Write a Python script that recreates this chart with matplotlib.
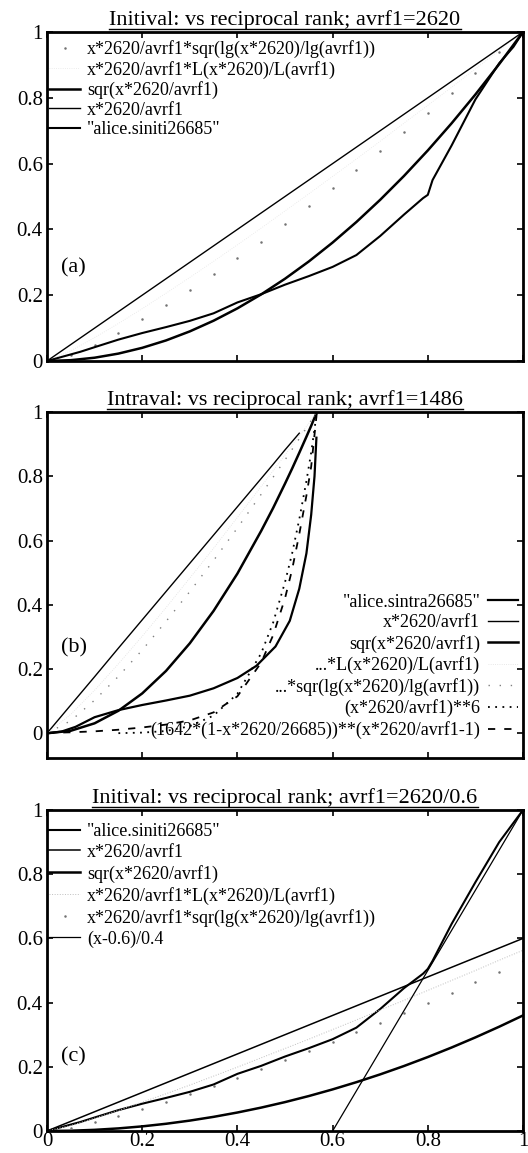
import matplotlib
matplotlib.use("Agg")
import matplotlib.pyplot as plt
from matplotlib.lines import Line2D

plt.rcParams['font.family'] = ['Liberation Serif', 'DejaVu Serif']

# ---------------- panel (a): Initival, avrf1=2620 ----------------
xa = [0, 0.05, 0.1, 0.15, 0.2, 0.25, 0.3, 0.35, 0.4, 0.45, 0.5,
      0.55, 0.6, 0.65, 0.7, 0.75, 0.8, 0.85, 0.9, 0.95, 1.0]
a_lin = [0, 0.05, 0.1, 0.15, 0.2, 0.25, 0.3, 0.35, 0.4, 0.45, 0.5,
         0.55, 0.6, 0.65, 0.7, 0.75, 0.8, 0.85, 0.9, 0.95, 1.0]
a_sqr = [0, 0.0025, 0.01, 0.0225, 0.04, 0.0625, 0.09, 0.1225, 0.16, 0.2025, 0.25,
         0.3025, 0.36, 0.4225, 0.49, 0.5625, 0.64, 0.7225, 0.81, 0.9025, 1.0]
a_L = [0, 0.031, 0.071, 0.114, 0.159, 0.206, 0.254, 0.303, 0.353, 0.404, 0.456,
       0.508, 0.561, 0.614, 0.668, 0.723, 0.777, 0.832, 0.888, 0.944, 1.0]
a_lg = [0, 0.019, 0.050, 0.086, 0.127, 0.170, 0.215, 0.263, 0.312, 0.363, 0.416,
        0.470, 0.525, 0.581, 0.638, 0.696, 0.755, 0.815, 0.876, 0.938, 1.0]

# empirical "alice.siniti26685"
emp_x = [0, 0.03, 0.07, 0.1, 0.15, 0.2, 0.25, 0.3, 0.35, 0.4, 0.45, 0.5, 0.55,
         0.6, 0.65, 0.7, 0.75, 0.79, 0.8, 0.81, 0.85, 0.9, 0.95, 0.98, 1.0]
emp_y_a = [0, 0.012, 0.028, 0.042, 0.065, 0.085, 0.103, 0.122, 0.145, 0.178, 0.203,
           0.232, 0.258, 0.286, 0.322, 0.38, 0.445, 0.495, 0.505, 0.55, 0.655, 0.795,
           0.905, 0.955, 1.0]
emp_y_c = [0, 0.012, 0.028, 0.042, 0.065, 0.085, 0.103, 0.122, 0.145, 0.178, 0.203,
           0.232, 0.258, 0.286, 0.322, 0.38, 0.445, 0.49, 0.505, 0.53, 0.645, 0.775,
           0.90, 0.96, 1.0]

# ---------------- panel (b): Intraval, avrf1=1486 ----------------
xb = [0, 0.05, 0.1, 0.15, 0.2, 0.25, 0.3, 0.35, 0.4, 0.45, 0.475, 0.5,
      0.515, 0.53, 0.545, 0.555, 0.567]
b_lin = [0, 0.088, 0.176, 0.265, 0.353, 0.441, 0.529, 0.617, 0.705, 0.793, 0.837,
         0.882, 0.908, 0.934, 0.961, 0.978, 1.0]
b_sqr = [0, 0.0078, 0.031, 0.070, 0.124, 0.194, 0.280, 0.381, 0.497, 0.630, 0.701,
         0.777, 0.824, 0.873, 0.923, 0.957, 1.0]
b_L = [0, 0.059, 0.134, 0.216, 0.302, 0.391, 0.483, 0.576, 0.672, 0.768, 0.817,
       0.866, 0.896, 0.926, 0.955, 0.975, 1.0]
b_lg = [0, 0.039, 0.103, 0.177, 0.259, 0.348, 0.441, 0.538, 0.639, 0.744, 0.797,
        0.851, 0.884, 0.917, 0.950, 0.973, 1.0]
b_pow6 = [0, 0.0, 0.0, 0.0003, 0.002, 0.007, 0.022, 0.055, 0.123, 0.249, 0.344,
          0.470, 0.560, 0.666, 0.785, 0.874, 1.0]
b_exp = [0.001, 0.003, 0.006, 0.011, 0.018, 0.027, 0.040, 0.065, 0.115, 0.220, 0.305,
         0.420, 0.510, 0.620, 0.740, 0.830, 1.0]
bemp_x = [0, 0.03, 0.06, 0.1, 0.15, 0.2, 0.25, 0.3, 0.35, 0.4, 0.44, 0.48, 0.51,
          0.53, 0.545, 0.555, 0.562, 0.566]
bemp_y = [0, 0.005, 0.02, 0.05, 0.072, 0.088, 0.102, 0.117, 0.14, 0.172, 0.21, 0.27,
          0.35, 0.45, 0.56, 0.68, 0.80, 0.92]

# ---------------- panel (c): Initival, avrf1=2620/0.6 ----------------
xc = xa
c_lin = [0, 0.03, 0.06, 0.09, 0.12, 0.15, 0.18, 0.21, 0.24, 0.27, 0.30,
         0.33, 0.36, 0.39, 0.42, 0.45, 0.48, 0.51, 0.54, 0.57, 0.60]
c_sqr = [0, 0.0009, 0.0036, 0.0081, 0.0144, 0.0225, 0.0324, 0.0441, 0.0576, 0.0729, 0.09,
         0.1089, 0.1296, 0.1521, 0.1764, 0.2025, 0.2304, 0.2601, 0.2916, 0.3249, 0.36]
c_L = [0, 0.017, 0.040, 0.064, 0.090, 0.116, 0.143, 0.171, 0.199, 0.228, 0.257,
       0.286, 0.316, 0.346, 0.377, 0.407, 0.438, 0.469, 0.500, 0.532, 0.563]
c_lg = [0, 0.010, 0.027, 0.046, 0.067, 0.090, 0.114, 0.139, 0.165, 0.192, 0.220,
        0.249, 0.278, 0.307, 0.338, 0.368, 0.400, 0.431, 0.464, 0.496, 0.529]
shift_x = [0.6, 1.0]
shift_y = [0.0, 1.0]

yticks = [0, 0.2, 0.4, 0.6, 0.8, 1]
ytick_labels = ['0', '0.2', '0.4', '0.6', '0.8', '1']
xticks = [0, 0.2, 0.4, 0.6, 0.8, 1]
xtick_labels = ['0', '0.2', '0.4', '0.6', '0.8', '1']

W, H = 528, 1153
fig = plt.figure(figsize=(W / 100, H / 100), dpi=100)

def box(top, bottom, left=47, right=523):
    return [left / W, 1 - bottom / H, (right - left) / W, (bottom - top) / H]

ax_a = fig.add_axes(box(32, 361))
ax_b = fig.add_axes(box(412, 758))
ax_c = fig.add_axes(box(810, 1131))

def style(ax, ylim, show_x):
    ax.set_xlim(0, 1)
    ax.set_ylim(*ylim)
    ax.set_yticks(yticks)
    ax.set_yticklabels(ytick_labels)
    ax.set_xticks(xticks)
    if show_x:
        ax.set_xticklabels(xtick_labels)
    else:
        ax.set_xticklabels([])
    ax.tick_params(direction='in', length=4, width=1.2, top=True, right=True,
                   labelsize=15, pad=3)
    ax.tick_params(axis='x', pad=1)
    for s in ax.spines.values():
        s.set_linewidth(2.0)

legend_kw = dict(frameon=False, fontsize=13, handlelength=1.7, handletextpad=0.4,
                 borderaxespad=0.0, borderpad=0.0, numpoints=1)

# panel (a)
ax = ax_a
ax.plot(xa, a_lg, ls='none', marker='.', ms=1.6, color='0.45',
        label='x*2620/avrf1*sqr(lg(x*2620)/lg(avrf1))')
ax.plot(xa, a_L, ls=':', lw=0.6, color='0.9',
        label='x*2620/avrf1*L(x*2620)/L(avrf1)')
ax.plot(xa, a_sqr, color='black', lw=1.8, label='sqr(x*2620/avrf1)')
ax.plot(xa, a_lin, color='black', lw=1.0, label='x*2620/avrf1')
ax.plot(emp_x, emp_y_a, color='black', lw=1.5, label='"alice.siniti26685"')
style(ax, (0, 1), False)
ax.legend(loc='upper left', bbox_to_anchor=(0.005, 0.975), labelspacing=0.14,
          **legend_kw)
ax.text(0.03, 0.283, '(a)', fontsize=16, va='center')
ax.set_title('Initival: vs reciprocal rank; avrf1=2620', fontsize=16, pad=5)

# panel (b)
ax = ax_b
ax.plot(bemp_x, bemp_y, color='black', lw=1.6, label='"alice.sintra26685"')
ax.plot(xb[:14], b_lin[:14], color='black', lw=1.0, label='x*2620/avrf1')
ax.plot(xb, b_sqr, color='black', lw=1.8, label='sqr(x*2620/avrf1)')
ax.plot(xb, b_L, ls=':', lw=0.6, color='0.88', label='...*L(x*2620)/L(avrf1)')
ax.plot(xb, b_lg, ls=(0, (1, 7)), lw=1.0, color='0.5',
        label='...*sqr(lg(x*2620)/lg(avrf1))')
ax.plot(xb[3:], b_pow6[3:], ls=(0, (1, 3)), lw=1.3, color='black',
        label='(x*2620/avrf1)**6')
ax.plot(xb, b_exp, ls=(0, (4, 5)), lw=1.3, color='black',
        label='(1642*(1-x*2620/26685))**(x*2620/avrf1-1)')
style(ax, (-0.077, 1.0), False)
ax.legend(loc='lower right', markerfirst=False, bbox_to_anchor=(0.99, 0.055),
          labelspacing=0.2, **legend_kw)
ax.text(0.03, 0.265, '(b)', fontsize=16, va='center')
ax.set_title('Intraval: vs reciprocal rank; avrf1=1486', fontsize=16, pad=5)

# panel (c)
ax = ax_c
ax.plot(emp_x, emp_y_c, color='black', lw=1.5, label='"alice.siniti26685"')
ax.plot(xc, c_lin, color='black', lw=1.1, label='x*2620/avrf1')
ax.plot(xc, c_sqr, color='black', lw=1.8, label='sqr(x*2620/avrf1)')
ax.plot(xc, c_L, ls=':', lw=0.7, color='0.75',
        label='x*2620/avrf1*L(x*2620)/L(avrf1)')
ax.plot(xc, c_lg, ls='none', marker='.', ms=1.6, color='0.45',
        label='x*2620/avrf1*sqr(lg(x*2620)/lg(avrf1))')
ax.plot(shift_x, shift_y, color='black', lw=0.9, label='(x-0.6)/0.4')
style(ax, (0, 1), True)
ax.legend(loc='upper left', bbox_to_anchor=(0.005, 0.96), labelspacing=0.22,
          **legend_kw)
ax.text(0.03, 0.23, '(c)', fontsize=16, va='center')
ax.set_title('Initival: vs reciprocal rank; avrf1=2620/0.6', fontsize=16, pad=5)

# underline the titles, as in the original print
fig.canvas.draw()
inv = fig.transFigure.inverted()
for ax in (ax_a, ax_b, ax_c):
    bb = ax.title.get_window_extent().transformed(inv)
    y = bb.y0 + 0.0012
    fig.add_artist(Line2D([bb.x0, bb.x1], [y, y], color='black', lw=1.0,
                          transform=fig.transFigure))

fig.savefig('out.png', dpi=100)
